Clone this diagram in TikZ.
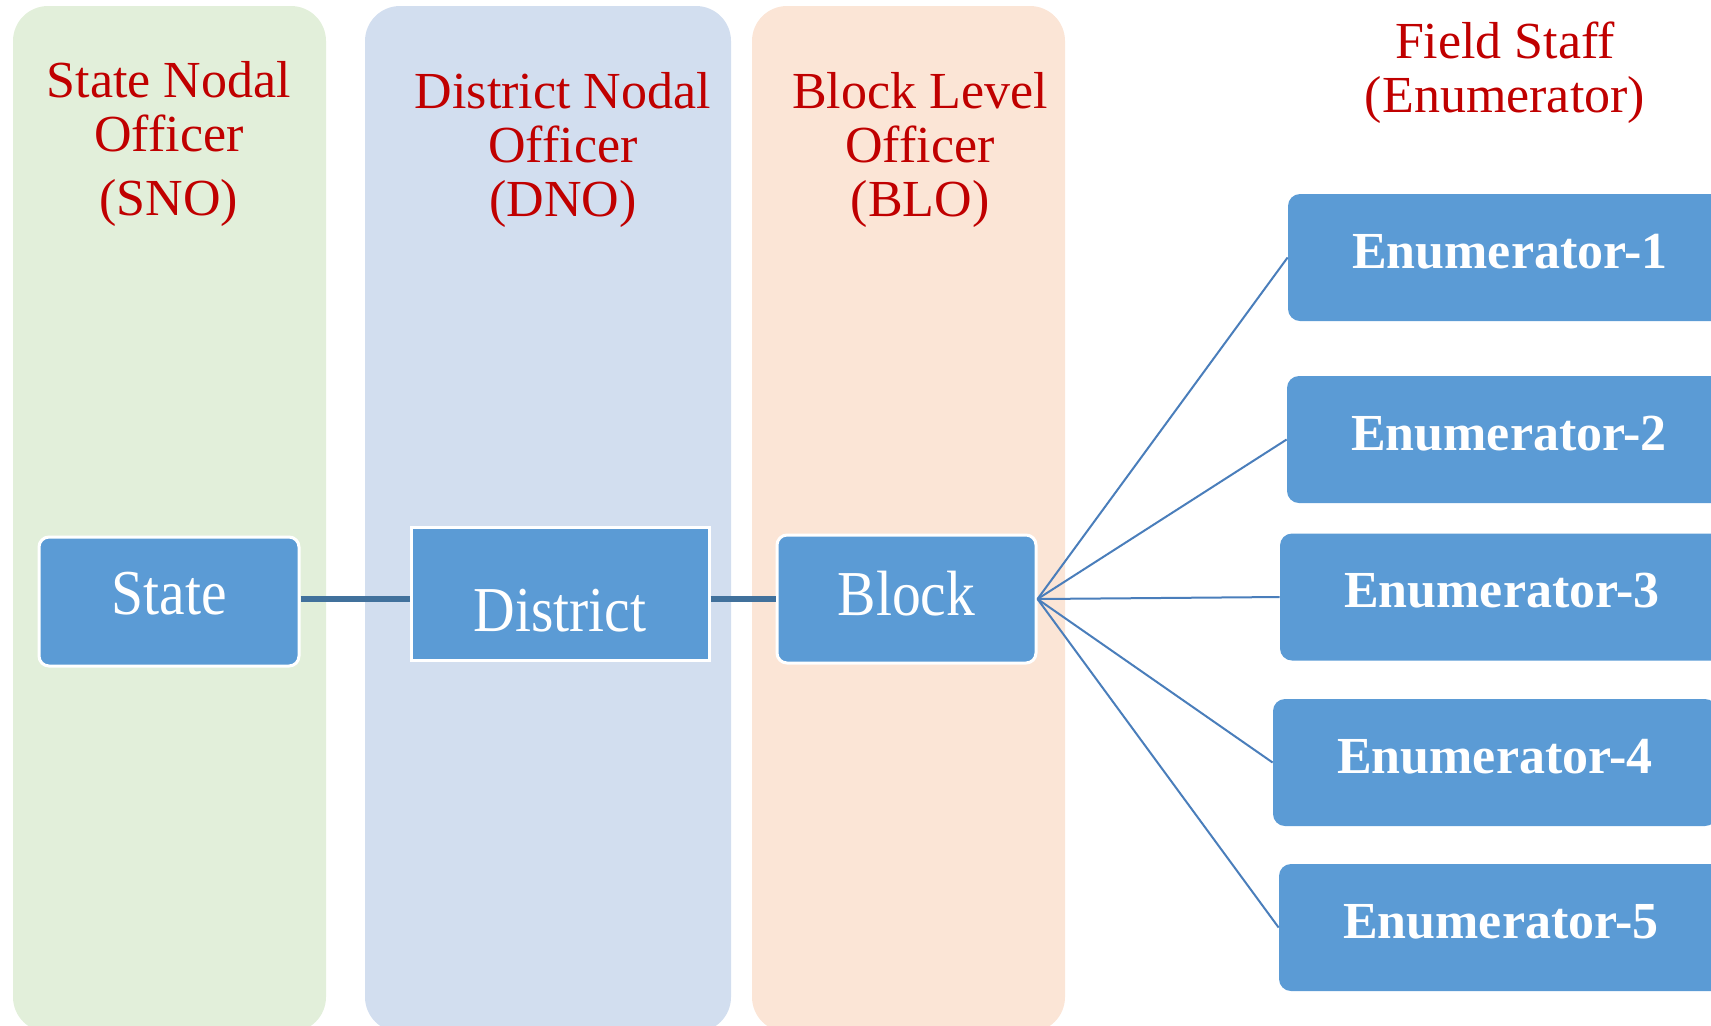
\documentclass[tikz,border=0pt]{standalone}
\usepackage{fontspec}
\setmainfont{Liberation Serif}
\newfontfamily\boxfont{Liberation Serif}[FakeStretch=0.9]
\definecolor{sngreen}{HTML}{E2EFDA}
\definecolor{dnblue}{HTML}{D2DEEF}
\definecolor{blorange}{HTML}{FBE5D6}
\definecolor{boxblue}{HTML}{5B9BD5}
\definecolor{titlered}{HTML}{C00000}
\definecolor{linkblue}{HTML}{41719C}
\definecolor{fanblue}{HTML}{4A7EBB}
\begin{document}
\begin{tikzpicture}[x=0.5pt, y=-0.5pt,
    headtext/.style={text=titlered, font=\fontsize{26}{27}\selectfont,
        align=center, inner sep=0pt, anchor=north},
    levelbox/.style={fill=boxblue, draw=white, line width=1.5pt, text=white,
        font=\boxfont\fontsize{32}{36}\selectfont, inner sep=0pt},
    enumbox/.style={fill=boxblue, rounded corners=6pt, text=white,
        font=\bfseries\fontsize{26}{30}\selectfont, inner sep=0pt,
        minimum width=222pt, minimum height=63.5pt,
        text height=18pt, text depth=7.5pt},
    link/.style={draw=linkblue, line width=3pt},
    fan/.style={draw=fanblue, line width=1pt}]
\useasboundingbox (0,0) rectangle (1711,1025);
\clip (0,0) rectangle (1711,1025);

% Column backgrounds
\fill[sngreen, rounded corners=17.5pt] (13,6) rectangle (326,1032);
\fill[dnblue, rounded corners=17.5pt] (365,6) rectangle (731,1032);
\fill[blorange, rounded corners=17.5pt] (752,6) rectangle (1065,1032);

% Column titles
\node[headtext] (SNOtitle) at (169,61.5) {State Nodal\\Officer\\[5pt](SNO)};
\node[headtext] (DNOtitle) at (563,72.5) {District Nodal\\Officer\\(DNO)};
\node[headtext] (BLOtitle) at (920,72.5) {Block Level\\Officer\\(BLO)};
\node[headtext] (FieldTitle) at (1505,21.5) {Field Staff\\(Enumerator)};

% Level boxes
\node[levelbox, rounded corners=5pt, minimum width=130pt, minimum height=64.5pt,
    text height=20pt, text depth=7.5pt] (State) at (169,601.5) {State};
\node[levelbox, minimum width=149pt, minimum height=66.5pt,
    text height=40pt, text depth=2.5pt] (District) at (560,593.5) {District};
\node[levelbox, rounded corners=5pt, minimum width=129.5pt, minimum height=64pt,
    text height=22pt, text depth=6pt] (Block) at (906.5,599) {Block};

\draw[link] (State.east |- Block.west) -- (District.west |- Block.west);
\draw[link] (District.east |- Block.west) -- (Block.west);

% Enumerators
\foreach \i/\x/\y in {1/1510/257.5, 2/1509/439.5, 3/1502/597, 4/1495/762.5, 5/1501/927.5}
    \node[enumbox] (Enum\i) at (\x,\y) {Enumerator-\i};
\foreach \i in {1,...,5}
    \draw[fan] (Block.east) -- (Enum\i.west);

\end{tikzpicture}
\end{document}
